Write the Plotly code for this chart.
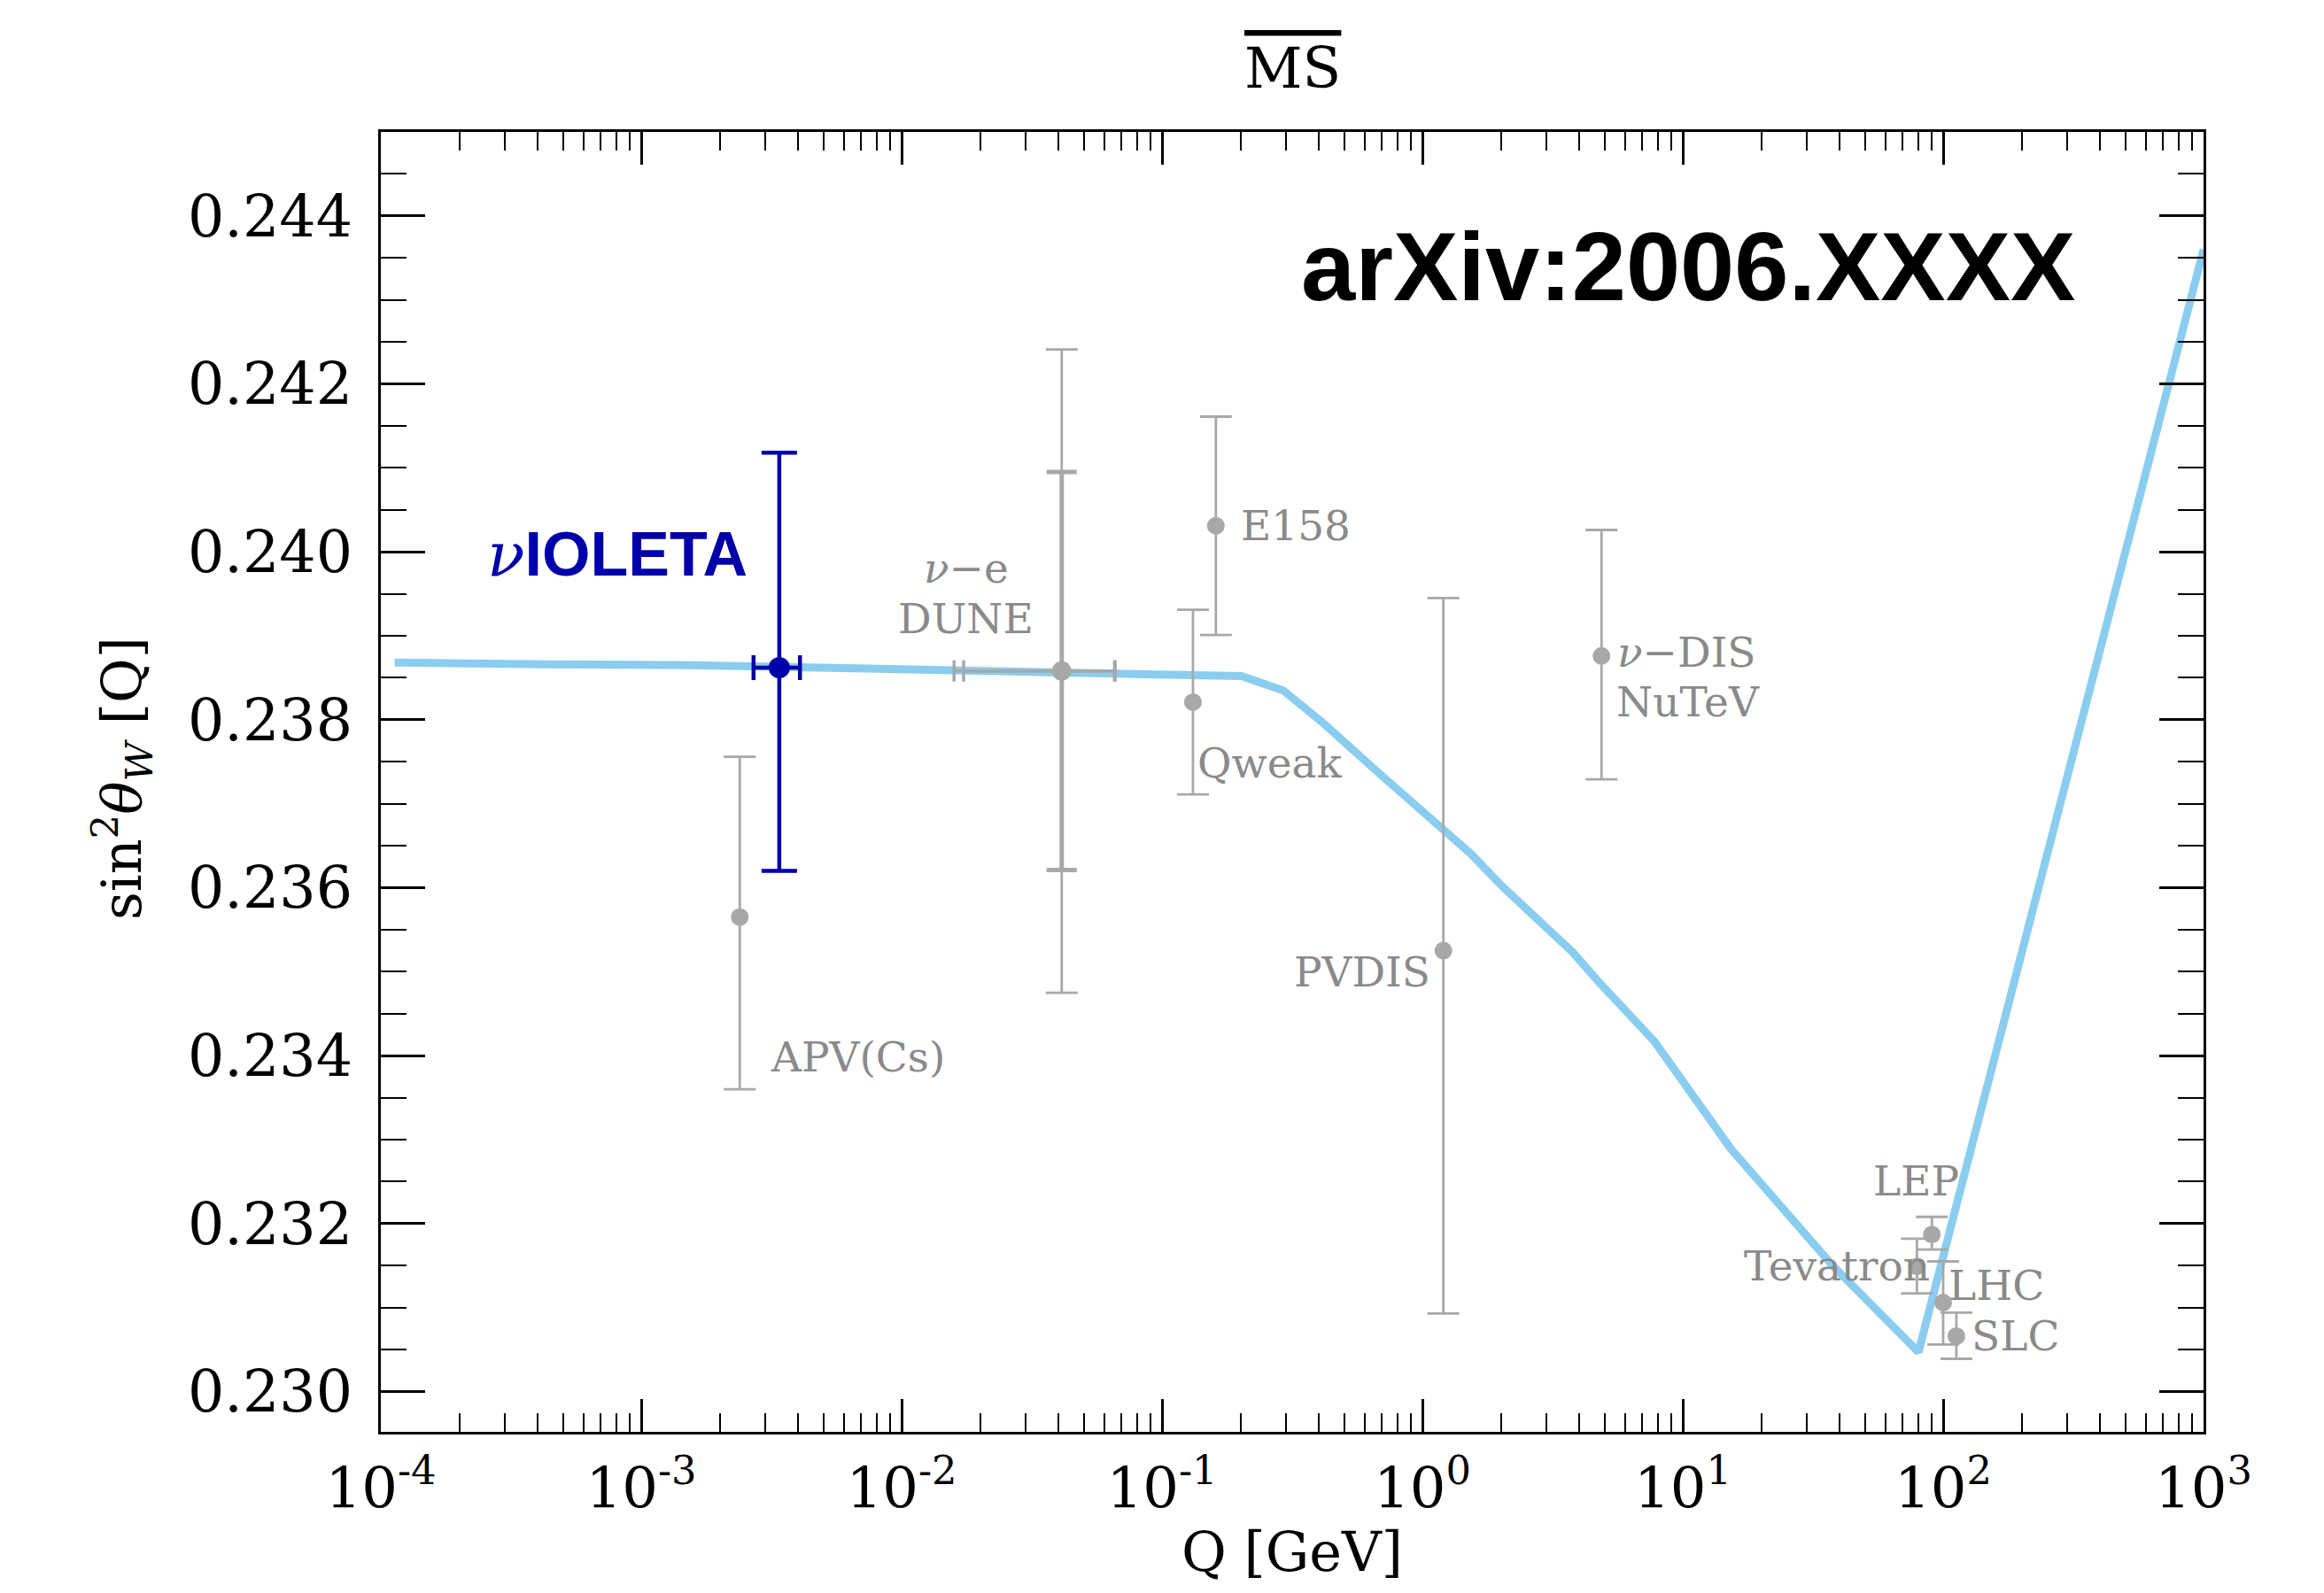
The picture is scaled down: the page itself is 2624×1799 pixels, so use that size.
import numpy as np
import plotly.graph_objects as go

# ---------------- data ----------------
# running of sin^2 theta_W in MS-bar scheme
curve_q = [1.13e-4, 4.2e-4, 4.4e-4, 1.6e-3, 3.4e-3, 8.7e-3, 0.041, 0.202, 0.292,
           0.42, 0.655, 1.07, 1.54, 2.02, 3.78, 4.75, 7.78, 15.3, 37.6, 80.4, 1000.0]
curve_s2w = [0.23868, 0.23868, 0.23866, 0.23865, 0.23863, 0.23860, 0.23857, 0.23852, 0.23835,
             0.23795, 0.23741, 0.23683, 0.23640, 0.23602, 0.23523, 0.23488, 0.23417, 0.23289,
             0.23150, 0.23047, 0.24360]

# existing measurements (grey)
exp_names = ["APV(Cs)", "E158", "Qweak", "PVDIS", "NuTeV", "LEP", "Tevatron", "LHC", "SLC"]
exp_q = [0.00239, 0.161, 0.1315, 1.204, 4.875, 90.5, 79.3, 100.0, 112.4]
exp_s2w = [0.23565, 0.24031, 0.23821, 0.23525, 0.23876, 0.23187, 0.23149, 0.23106, 0.23066]
exp_err_up = [0.00191, 0.00130, 0.00110, 0.00420, 0.00150, 0.00021, 0.00033, 0.00049, 0.00028]
exp_err_dn = [0.00205, 0.00130, 0.00110, 0.00432, 0.00147, 0.00018, 0.00032, 0.00050, 0.00027]

# DUNE nu-e projection (two error bars)
dune_q = [0.0412]
dune_s2w = [0.23858]
dune_inner_err = [0.00237]
dune_outer_err = [0.00383]
dune_inner_qerr_plus = [0.0245]
dune_inner_qerr_minus = [0.0239]
dune_outer_qerr_plus = [0.0249]
dune_outer_qerr_minus = [0.0253]

# nuIOLETA projection
violeta_q = [0.00339]
violeta_s2w = [0.23862]
violeta_err_up = [0.00256]
violeta_err_dn = [0.00242]
violeta_qerr_plus = [0.00068]
violeta_qerr_minus = [0.00069]

# tick labels
x_tick_vals = [1e-4, 1e-3, 1e-2, 1e-1, 1e0, 1e1, 1e2, 1e3]
x_tick_text = ["10<sup>-4</sup>", "10<sup>-3</sup>", "10<sup>-2</sup>", "10<sup>-1</sup>",
               "10<sup>0</sup>", "10<sup>1</sup>", "10<sup>2</sup>", "10<sup>3</sup>"]
x_minor_vals = [m * 10.0 ** e for e in range(-4, 3) for m in range(2, 10)]

# experiment text labels
label_text = ["APV(Cs)", "<i>ν</i>−e", "DUNE", "E158", "Qweak", "PVDIS",
              "<i>ν</i>−DIS", "NuTeV", "LEP", "Tevatron", "LHC", "SLC"]
label_q = [0.0031, 0.0177, 0.0177, 0.198, 0.135, 1.087, 5.52, 5.45, 79.0, 90.3, 103.2, 126.5]
label_s2w = [0.23399, 0.23981, 0.23921, 0.24031, 0.23749, 0.23500,
             0.23881, 0.23821, 0.23251, 0.23150, 0.23126, 0.23066]
label_anchor = ["left", "center", "center", "left", "left", "right",
                "left", "left", "center", "right", "left", "left"]

# ---------------- styling ----------------
SERIF = "DejaVu Serif"
SANS = "Liberation Sans"
GREY_PT = "#A8A8A8"
GREY_TXT = "#8A8A8A"
BLUE = "#0000AA"
CURVE = "#8ACDEE"

W, H = 2624, 1799
ML, MR, MT, MB = 430, 136, 149, 182
PW, PH = W - ML - MR, H - MT - MB

fig = go.Figure()

fig.add_trace(go.Scatter(
    x=curve_q, y=curve_s2w, mode="lines",
    line=dict(color=CURVE, width=9), hoverinfo="skip"))

fig.add_trace(go.Scatter(
    x=exp_q, y=exp_s2w, mode="markers",
    marker=dict(color=GREY_PT, size=20),
    error_y=dict(type="data", symmetric=False, array=exp_err_up, arrayminus=exp_err_dn,
                 color=GREY_PT, thickness=2.8, width=18),
    text=exp_names))

fig.add_trace(go.Scatter(
    x=dune_q, y=dune_s2w, mode="markers",
    marker=dict(color="rgba(0,0,0,0)", size=2),
    error_y=dict(type="data", array=dune_outer_err, color=GREY_PT, thickness=2.8, width=18),
    error_x=dict(type="data", symmetric=False, array=dune_outer_qerr_plus,
                 arrayminus=dune_outer_qerr_minus, color=GREY_PT, thickness=3.5, width=12)))
fig.add_trace(go.Scatter(
    x=dune_q, y=dune_s2w, mode="markers",
    marker=dict(color=GREY_PT, size=22),
    error_y=dict(type="data", array=dune_inner_err, color=GREY_PT, thickness=5, width=17),
    error_x=dict(type="data", symmetric=False, array=dune_inner_qerr_plus,
                 arrayminus=dune_inner_qerr_minus, color=GREY_PT, thickness=3.5, width=12)))

fig.add_trace(go.Scatter(
    x=violeta_q, y=violeta_s2w, mode="markers",
    marker=dict(color=BLUE, size=24),
    error_y=dict(type="data", symmetric=False, array=violeta_err_up, arrayminus=violeta_err_dn,
                 color=BLUE, thickness=4.5, width=20),
    error_x=dict(type="data", symmetric=False, array=violeta_qerr_plus,
                 arrayminus=violeta_qerr_minus, color=BLUE, thickness=4.5, width=14)))

annotations = []
for t, q, s, a in zip(label_text, label_q, label_s2w, label_anchor):
    annotations.append(dict(
        x=np.log10(q), y=s, xref="x", yref="y", text=t, showarrow=False,
        xanchor=a, yanchor="middle",
        font=dict(family=SERIF, size=47, color=GREY_TXT)))

# nuIOLETA label
annotations.append(dict(
    x=(548 - ML) / PW, y=(H - MB - 626) / PH, xref="paper", yref="paper",
    text='<span style="font-family:DejaVu Serif"><i>ν</i></span><b>IOLETA</b>',
    showarrow=False, xanchor="left", yanchor="middle",
    font=dict(family=SANS, size=70, color=BLUE)))

# arXiv stamp
annotations.append(dict(
    x=(1467 - ML) / PW, y=(H - MB - 300) / PH, xref="paper", yref="paper",
    text="<b>arXiv:2006.XXXX</b>", showarrow=False, xanchor="left", yanchor="middle",
    font=dict(family=SANS, size=110, color="black")))

# title
annotations.append(dict(
    x=0.5, y=(H - MB - 77) / PH, xref="paper", yref="paper",
    text='<span style="text-decoration:overline">MS</span>', showarrow=False,
    xanchor="center", yanchor="middle",
    font=dict(family=SERIF, size=64, color="black")))

# axis titles
annotations.append(dict(
    x=0.5, y=(H - MB - 1752) / PH, xref="paper", yref="paper",
    text="Q [GeV]", showarrow=False, xanchor="center", yanchor="middle",
    font=dict(family=SERIF, size=62, color="black")))
annotations.append(dict(
    x=(138 - ML) / PW, y=(H - MB - 879) / PH, xref="paper", yref="paper",
    text="sin<sup>2</sup><i>θ</i><sub><i>W</i></sub> [Q]", showarrow=False,
    textangle=-90, xanchor="center", yanchor="middle",
    font=dict(family=SERIF, size=62, color="black")))

fig.update_layout(
    width=W, height=H, autosize=False,
    margin=dict(l=ML, r=MR, t=MT, b=MB, pad=0),
    paper_bgcolor="white", plot_bgcolor="white",
    showlegend=False,
    annotations=annotations,
    xaxis=dict(
        type="log", range=[-4, 3],
        tickmode="array", tickvals=x_tick_vals, ticktext=x_tick_text,
        ticks="inside", ticklen=37, tickwidth=2.5, tickcolor="black",
        showline=True, linecolor="black", linewidth=3, mirror="ticks",
        showgrid=False, zeroline=False,
        tickfont=dict(family=SERIF, size=64, color="black"),
        ticklabelstandoff=6,
        minor=dict(tickmode="array", tickvals=x_minor_vals, ticks="inside",
                   ticklen=21, tickwidth=2, tickcolor="black", showgrid=False),
    ),
    yaxis=dict(
        range=[0.22952, 0.245],
        tickmode="linear", tick0=0.230, dtick=0.002, tickformat=".3f",
        ticks="inside", ticklen=50, tickwidth=2.5, tickcolor="black",
        showline=True, linecolor="black", linewidth=3, mirror="ticks",
        showgrid=False, zeroline=False,
        tickfont=dict(family=SERIF, size=65, color="black"),
        ticklabelstandoff=16,
        minor=dict(tickmode="linear", tick0=0.230, dtick=0.0005, ticks="inside",
                   ticklen=29, tickwidth=2, tickcolor="black", showgrid=False),
    ),
)

fig.write_html("out.html")
